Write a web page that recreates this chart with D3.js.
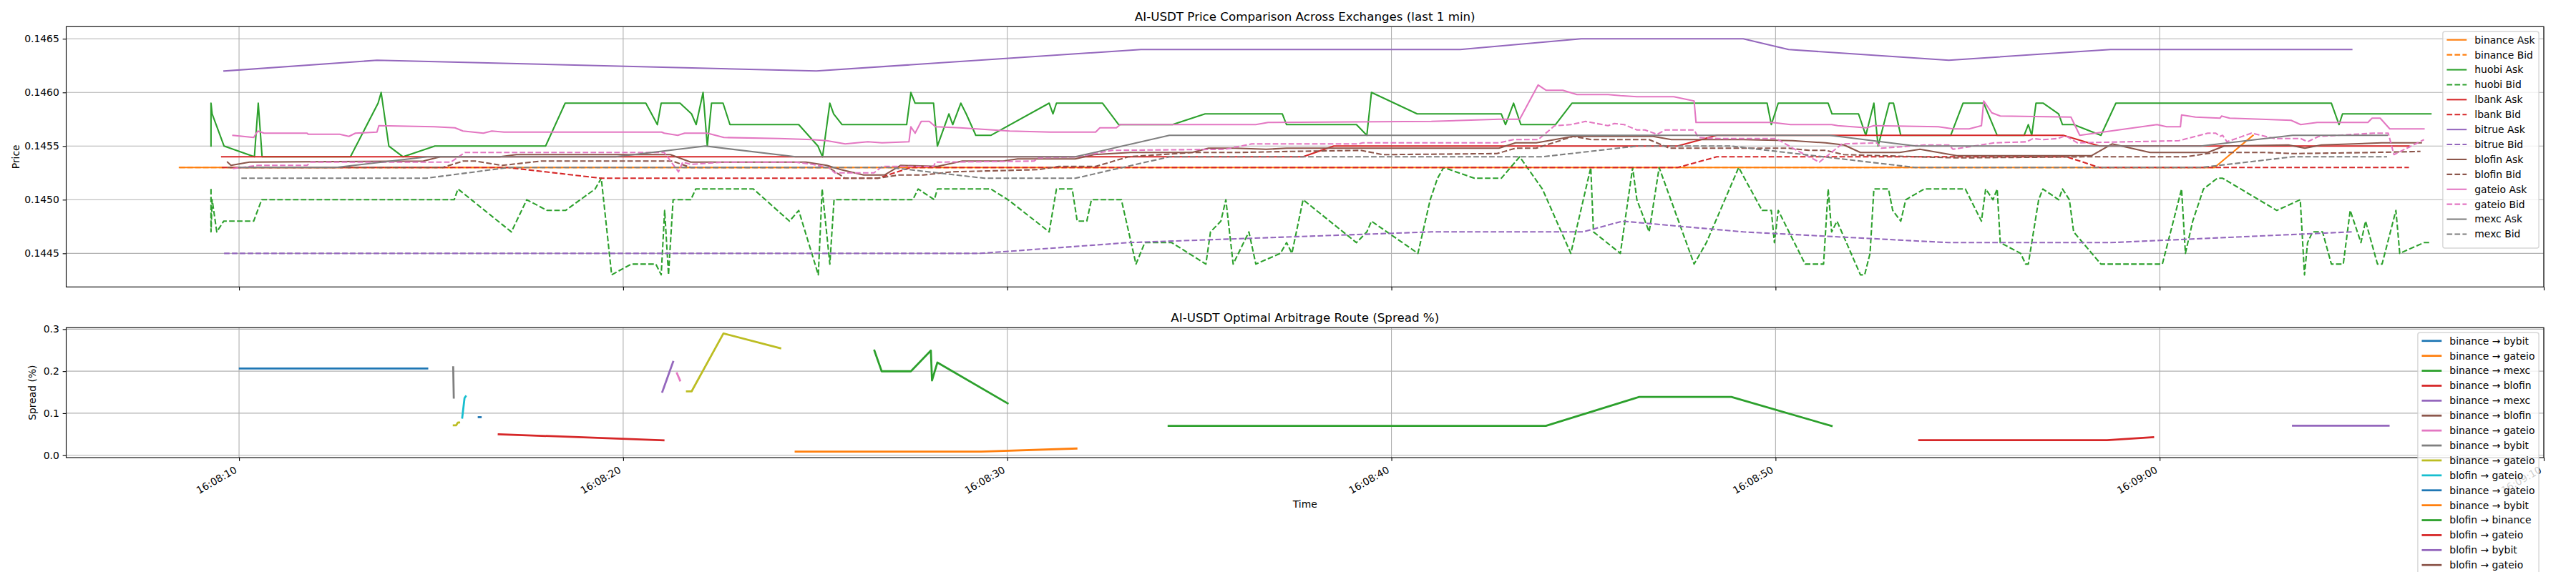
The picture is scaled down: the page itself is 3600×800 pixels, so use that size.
<!DOCTYPE html>
<html><head><meta charset="utf-8">
<script src="https://cdn.jsdelivr.net/npm/d3@7"></script>
<style>
body{margin:0;background:#fff}
text{font-family:"DejaVu Sans",sans-serif;fill:#000}
</style></head>
<body><svg id="c" width="3600" height="800"></svg>
<script>
// ---------- DATA (time = seconds after 16:08:00) ----------
const baseTime = [16, 8, 0];
const xTickSeconds = [10, 20, 30, 40, 50, 60, 70];
const priceTicks = [0.1445, 0.1450, 0.1455, 0.1460, 0.1465];
const spreadTicks = [0.0, 0.1, 0.2, 0.3];
const exchanges = ["binance", "huobi", "lbank", "bitrue", "blofin", "gateio", "mexc"];

const binanceAsk = [[8.45,0.1453],[20,0.1453],[40,0.1453],[61.43,0.1453],[62.43,0.1456]];
const binanceBid = [[8.45,0.1453],[30,0.1453],[61.43,0.1453]];
const huobiAsk = [[9.27,0.1455],[9.27,0.1459],[9.30,0.1458],[9.61,0.1455],[10.40,0.1454],[10.50,0.1459],[10.60,0.1454],[12.90,0.1454],[13.62,0.1459],[13.70,0.1460],[13.90,0.1455],[14.27,0.1454],[15.10,0.1455],[17.98,0.1455],[18.49,0.1459],[20.59,0.1459],[20.89,0.1457],[20.99,0.1459],[21.48,0.1459],[21.78,0.1458],[21.90,0.1457],[22.08,0.1460],[22.19,0.1455],[22.30,0.1459],[22.60,0.1459],[22.78,0.1457],[24.57,0.1457],[25.07,0.1455],[25.19,0.1454],[25.38,0.1459],[25.48,0.1458],[25.70,0.1457],[27.38,0.1457],[27.49,0.1460],[27.60,0.1459],[28.08,0.1459],[28.18,0.1455],[28.48,0.1458],[28.58,0.1457],[28.79,0.1459],[28.93,0.1458],[29.18,0.1456],[29.57,0.1456],[31.09,0.1459],[31.19,0.1458],[31.28,0.1459],[32.48,0.1459],[32.90,0.1457],[34.30,0.1457],[35.15,0.1458],[37.16,0.1458],[37.27,0.1457],[39.09,0.1457],[39.36,0.1456],[39.48,0.1460],[40.67,0.1458],[42.86,0.1458],[42.97,0.1457],[43.18,0.1459],[43.37,0.1457],[44.27,0.1457],[44.70,0.1459],[49.78,0.1459],[49.89,0.1457],[50.07,0.1459],[51.37,0.1459],[51.47,0.1458],[52.16,0.1458],[52.35,0.1456],[52.56,0.1459],[52.67,0.1455],[52.96,0.1459],[53.07,0.1459],[53.26,0.1456],[54.56,0.1456],[54.88,0.1459],[55.42,0.1459],[55.77,0.1456],[56.47,0.1456],[56.58,0.1457],[56.67,0.1456],[56.78,0.1459],[56.97,0.1459],[57.37,0.1458],[57.47,0.1457],[57.76,0.1457],[58.47,0.1456],[58.86,0.1459],[64.47,0.1459],[64.67,0.1457],[64.76,0.1458],[67.06,0.1458]];
const huobiBid = [[9.27,0.1451],[9.27,0.1447],[9.30,0.1450],[9.42,0.1447],[9.60,0.1448],[10.38,0.1448],[10.59,0.1450],[15.60,0.1450],[15.70,0.1451],[17.09,0.1447],[17.49,0.1450],[18.02,0.1449],[18.50,0.1449],[19.27,0.1451],[19.43,0.1452],[19.70,0.1443],[20.21,0.1444],[20.85,0.1444],[20.99,0.1443],[21.08,0.1449],[21.18,0.1443],[21.30,0.1450],[21.76,0.1450],[21.89,0.1451],[23.39,0.1451],[24.33,0.1448],[24.57,0.1449],[25.08,0.1443],[25.18,0.1451],[25.38,0.1444],[25.49,0.1450],[27.54,0.1450],[27.68,0.1451],[28.10,0.1450],[28.18,0.1451],[29.57,0.1451],[30.02,0.1450],[31.09,0.1447],[31.28,0.1451],[31.69,0.1451],[31.82,0.1448],[32.07,0.1448],[32.19,0.1450],[32.97,0.1450],[33.35,0.1444],[33.58,0.1446],[34.28,0.1446],[35.17,0.1444],[35.29,0.1447],[35.56,0.1448],[35.69,0.1450],[35.88,0.1444],[36.29,0.1447],[36.47,0.1444],[37.11,0.1445],[37.27,0.1446],[37.41,0.1445],[37.70,0.1450],[39.09,0.1446],[39.36,0.1447],[39.48,0.1448],[40.69,0.1445],[41.01,0.1450],[41.20,0.1452],[41.36,0.1453],[42.16,0.1452],[42.86,0.1452],[43.34,0.1454],[43.93,0.1451],[44.67,0.1445],[45.19,0.1453],[45.26,0.1447],[45.96,0.1445],[46.28,0.1453],[46.39,0.1450],[46.71,0.1447],[46.97,0.1453],[47.88,0.1444],[48.20,0.1446],[49.04,0.1453],[49.65,0.1449],[49.89,0.1449],[49.97,0.1446],[50.07,0.1449],[50.77,0.1444],[51.25,0.1444],[51.37,0.1451],[51.46,0.1447],[51.60,0.1448],[52.21,0.1443],[52.32,0.1443],[52.46,0.1445],[52.56,0.1451],[52.94,0.1451],[53.05,0.1449],[53.26,0.1448],[53.39,0.1450],[53.87,0.1451],[54.94,0.1451],[55.36,0.1448],[55.47,0.1451],[55.66,0.1450],[55.77,0.1451],[55.85,0.1446],[56.38,0.1445],[56.51,0.1444],[56.58,0.1444],[56.85,0.1450],[56.96,0.1451],[57.37,0.1450],[57.47,0.1451],[57.65,0.1450],[57.76,0.1447],[58.47,0.1444],[60.07,0.1444],[60.57,0.1451],[60.67,0.1445],[60.86,0.1448],[61.14,0.1451],[61.50,0.1452],[61.64,0.1452],[63.05,0.1449],[63.66,0.1450],[63.77,0.1443],[63.85,0.1446],[63.98,0.1447],[64.24,0.1447],[64.47,0.1444],[64.78,0.1444],[64.96,0.1449],[65.24,0.1446],[65.36,0.1448],[65.67,0.1444],[65.79,0.1444],[66.15,0.1449],[66.25,0.1445],[66.88,0.1446],[67.06,0.1446]];
const lbankAsk = [[9.55,0.1454],[37.70,0.1454],[38.50,0.1455],[47.45,0.1455],[48.47,0.1456],[57.49,0.1456],[58.43,0.1455],[66.49,0.1455]];
const lbankBid = [[9.55,0.1453],[17.00,0.1453],[19.43,0.1452],[26.63,0.1452],[27.49,0.1453],[47.45,0.1453],[48.47,0.1454],[57.58,0.1454],[58.43,0.1453],[66.49,0.1453]];
const bitrueAsk = [[9.61,0.1462],[13.59,0.1463],[25.03,0.1462],[33.48,0.1464],[41.79,0.1464],[44.94,0.1465],[49.16,0.1465],[50.34,0.1464],[54.51,0.1463],[58.72,0.1464],[65.00,0.1464]];
const bitrueBid = [[9.61,0.1445],[29.30,0.1445],[33.15,0.1446],[41.04,0.1447],[44.99,0.1447],[46.01,0.1448],[49.16,0.1447],[54.51,0.1446],[58.72,0.1446],[65.00,0.1447]];
const blofinAsk = [[9.70,0.14535],[9.79,0.14532],[10.27,0.14535],[14.80,0.14536],[15.24,0.14540],[16.79,0.14540],[17.22,0.14542],[21.23,0.14542],[21.76,0.14535],[24.76,0.14535],[25.30,0.14532],[25.67,0.14528],[26.26,0.14523],[26.80,0.14523],[27.22,0.14532],[28.18,0.14531],[28.83,0.14536],[29.89,0.14536],[30.27,0.14538],[31.77,0.14538],[32.25,0.14542],[33.21,0.14544],[34.81,0.14544],[35.24,0.14548],[35.94,0.14548],[36.74,0.14547],[37.27,0.14548],[42.80,0.14548],[43.23,0.14553],[43.77,0.14553],[44.25,0.14556],[44.73,0.14559],[46.81,0.14559],[47.29,0.14556],[49.16,0.14556],[50.45,0.14555],[51.30,0.14553],[51.78,0.14551],[52.21,0.14544],[53.23,0.14544],[53.76,0.14547],[54.72,0.14541],[58.22,0.14541],[58.76,0.14552],[59.75,0.14544],[61.25,0.14544],[61.68,0.14550],[63.35,0.14551],[63.78,0.14548],[64.21,0.14551],[65.78,0.14553],[66.81,0.14553]];
const blofinBid = [[9.70,0.14530],[15.30,0.14530],[15.83,0.14536],[16.15,0.14536],[16.85,0.14532],[17.86,0.14536],[21.28,0.14536],[21.76,0.14530],[25.35,0.14530],[25.78,0.14520],[26.63,0.14520],[27.17,0.14523],[27.81,0.14523],[28.56,0.14526],[30.80,0.14528],[31.34,0.14531],[32.30,0.14531],[33.15,0.14540],[34.81,0.14544],[35.94,0.14544],[37.38,0.14545],[39.20,0.14546],[39.78,0.14542],[42.75,0.14543],[43.23,0.14548],[43.77,0.14548],[44.73,0.14559],[45.21,0.14556],[46.71,0.14556],[47.24,0.14548],[50.34,0.14548],[50.87,0.14546],[51.30,0.14546],[51.78,0.14542],[54.72,0.14539],[58.00,0.14540],[60.68,0.14540],[61.43,0.14544],[62.78,0.14544],[63.49,0.14543],[65.49,0.14544],[66.79,0.14545]];
const gateioAsk = [[9.84,0.14560],[10.38,0.14558],[10.49,0.14564],[10.65,0.14562],[11.77,0.14562],[11.80,0.14561],[12.62,0.14561],[12.86,0.14559],[13.03,0.14562],[13.59,0.14563],[13.64,0.14569],[15.08,0.14568],[15.62,0.14567],[15.83,0.14564],[16.36,0.14562],[16.58,0.14564],[16.90,0.14563],[21.00,0.14563],[21.07,0.14562],[21.42,0.14560],[21.60,0.14562],[22.19,0.14562],[22.62,0.14558],[24.06,0.14557],[24.92,0.14556],[25.30,0.14555],[25.78,0.14552],[26.37,0.14554],[26.74,0.14553],[27.44,0.14554],[27.49,0.14568],[27.60,0.14562],[27.76,0.14573],[27.97,0.14573],[28.13,0.14568],[28.77,0.14567],[30.06,0.14564],[31.12,0.14563],[32.30,0.14563],[32.41,0.14567],[32.84,0.14567],[32.94,0.14570],[36.47,0.14570],[36.79,0.14572],[41.04,0.14573],[42.80,0.14575],[43.34,0.14575],[43.82,0.14607],[44.03,0.14602],[44.46,0.14602],[44.83,0.14598],[45.64,0.14598],[45.96,0.14597],[46.39,0.14596],[47.35,0.14596],[47.88,0.14592],[47.93,0.14572],[49.59,0.14572],[49.91,0.14572],[50.39,0.14570],[51.46,0.14570],[51.62,0.14569],[52.37,0.14567],[52.56,0.14569],[54.24,0.14568],[54.62,0.14566],[55.04,0.14566],[55.36,0.14569],[55.42,0.14592],[55.63,0.14581],[55.85,0.14578],[57.69,0.14577],[57.92,0.14560],[59.93,0.14570],[60.18,0.14568],[60.54,0.14568],[60.57,0.14579],[60.93,0.14577],[61.57,0.14576],[61.61,0.14578],[61.82,0.14576],[62.64,0.14575],[63.42,0.14574],[63.67,0.14570],[64.10,0.14572],[65.42,0.14572],[65.53,0.14576],[65.74,0.14576],[65.99,0.14566],[66.88,0.14566]];
const gateioBid = [[9.84,0.14529],[10.49,0.14532],[11.77,0.14532],[11.87,0.14535],[15.51,0.14535],[15.88,0.14544],[21.07,0.14544],[21.44,0.14526],[21.55,0.14535],[21.76,0.14533],[22.62,0.14535],[24.49,0.14535],[24.92,0.14533],[25.35,0.14530],[25.51,0.14525],[26.53,0.14525],[26.74,0.14531],[28.08,0.14531],[28.13,0.14535],[30.70,0.14536],[30.80,0.14539],[31.82,0.14540],[32.73,0.14546],[35.67,0.14547],[36.36,0.14552],[39.14,0.14552],[39.25,0.14553],[42.80,0.14553],[43.18,0.14556],[43.82,0.14556],[44.25,0.14569],[44.67,0.14570],[45.05,0.14573],[45.64,0.14569],[45.80,0.14571],[46.06,0.14570],[46.39,0.14565],[46.60,0.14565],[46.92,0.14561],[47.13,0.14565],[47.88,0.14565],[47.99,0.14558],[48.52,0.14557],[50.02,0.14557],[50.45,0.14548],[51.14,0.14535],[51.73,0.14552],[52.64,0.14553],[52.75,0.14548],[53.87,0.14551],[54.51,0.14551],[54.62,0.14547],[55.69,0.14553],[56.54,0.14554],[56.70,0.14557],[56.97,0.14556],[57.34,0.14557],[57.50,0.14559],[57.58,0.14559],[57.86,0.14553],[60.50,0.14555],[60.93,0.14559],[61.25,0.14562],[61.46,0.14562],[61.57,0.14559],[61.64,0.14560],[61.75,0.14554],[62.39,0.14562],[63.00,0.14557],[63.67,0.14557],[63.85,0.14554],[64.14,0.14559],[65.56,0.14562],[65.95,0.14562],[66.10,0.14542],[66.88,0.14556]];
const mexcAsk = [[10.00,0.1453],[12.52,0.1453],[14.90,0.1454],[19.80,0.1454],[22.14,0.1455],[24.49,0.1454],[31.77,0.1454],[34.22,0.1456],[51.41,0.1456],[53.65,0.1455],[61.07,0.1455],[63.46,0.1456],[65.92,0.1456]];
const mexcBid = [[10.06,0.1452],[14.87,0.1452],[17.01,0.1453],[26.96,0.1453],[29.41,0.1452],[31.77,0.1452],[34.22,0.1454],[43.93,0.1454],[46.39,0.1455],[48.84,0.1455],[53.65,0.1453],[61.07,0.1453],[63.46,0.1454],[65.92,0.1454]];

const routeLabels = ["binance → bybit","binance → gateio","binance → mexc","binance → blofin","binance → mexc","binance → blofin","binance → gateio","binance → bybit","binance → gateio","blofin → gateio","binance → gateio","binance → bybit","blofin → binance","blofin → gateio","blofin → bybit","blofin → gateio"];
const routePoints = [
  [[10.02,0.2064],[14.90,0.2064]],
  [[24.49,0.0085],[29.32,0.0085],[31.80,0.0160]],
  [[26.54,0.249],[26.73,0.1998],[27.49,0.1998],[28.01,0.249],[28.04,0.178],[28.18,0.2207],[30.01,0.1234]],
  [[16.76,0.0499],[21.05,0.0357]],
  [[21.02,0.151],[21.30,0.2224]],
  [],
  [[21.40,0.195],[21.48,0.178]],
  [[15.575,0.2095],[15.59,0.137]],
  [[15.59,0.071],[15.65,0.071],[15.70,0.078],[15.73,0.078],null,[21.66,0.1518],[21.78,0.1518],[22.61,0.2898],[24.09,0.2547]],
  [[15.81,0.0895],[15.87,0.136],[15.90,0.140]],
  [[16.24,0.0906],[16.29,0.0906]],
  [],
  [[34.20,0.070],[44.02,0.070],[46.45,0.1387],[48.85,0.1387],[51.46,0.0696]],
  [[53.74,0.0357],[58.63,0.0357],[59.83,0.043]],
  [[63.47,0.0703],[65.96,0.0703]],
  []
];

// ---------- RENDER ----------
const tab10 = ["#1f77b4","#ff7f0e","#2ca02c","#d62728","#9467bd","#8c564b","#e377c2","#7f7f7f","#bcbd22","#17becf"];
const toDate = s => new Date(2024, 0, 1, baseTime[0], baseTime[1], baseTime[2] + Math.floor(s), Math.round((s - Math.floor(s)) * 1000));
const svg = d3.select("#c");
const FS = 13.9, LW = 2.08, GRID = "#b0b0b0";
const L = 92.5, R = 3555;
const P1 = {top: 37.3, bot: 401.3}, P2 = {top: 458.3, bot: 640};

const x = d3.scaleTime().domain([toDate(5.5), toDate(70)]).range([L, R]);
const yP = d3.scaleLinear().domain([0.144187, 0.146613]).range([P1.bot, P1.top]);
const yS = d3.scaleLinear().domain([-0.0056, 0.3035]).range([P2.bot, P2.top]);
const xTicks = xTickSeconds.map(toDate);

function frame(p, yScale, yTicks, fmt, id) {
  const g = svg.append("g");
  g.append("rect").attr("x", L).attr("y", p.top).attr("width", R - L).attr("height", p.bot - p.top).attr("fill", "#fff");
  g.selectAll(null).data(xTicks).join("line")
    .attr("x1", d => x(d)).attr("x2", d => x(d)).attr("y1", p.top).attr("y2", p.bot)
    .attr("stroke", GRID).attr("stroke-width", 1.11);
  g.selectAll(null).data(yTicks).join("line")
    .attr("x1", L).attr("x2", R).attr("y1", d => yScale(d)).attr("y2", d => yScale(d))
    .attr("stroke", GRID).attr("stroke-width", 1.11);
  svg.append("clipPath").attr("id", id).append("rect")
    .attr("x", L).attr("y", p.top).attr("width", R - L).attr("height", p.bot - p.top);
  return g;
}
function axes(p, yScale, yTicks, fmt) {
  const ay = svg.append("g").attr("transform", `translate(${L},0)`)
    .call(d3.axisLeft(yScale).tickValues(yTicks).tickFormat(fmt).tickSize(4.86).tickPadding(4.86));
  const ax = svg.append("g").attr("transform", `translate(0,${p.bot})`)
    .call(d3.axisBottom(x).tickValues(xTicks).tickFormat("").tickSize(4.86));
  [ay, ax].forEach(a => {
    a.select(".domain").remove();
    a.selectAll("line").attr("stroke", "#000").attr("stroke-width", 1.11);
    a.selectAll("text").style("font-size", FS + "px").style("font-family", "DejaVu Sans").attr("fill", "#000");
  });
  svg.append("rect").attr("x", L).attr("y", p.top).attr("width", R - L).attr("height", p.bot - p.top)
    .attr("fill", "none").attr("stroke", "#000").attr("stroke-width", 1.11);
}
function legend(items, right, top, lw) {
  const g = svg.append("g");
  const pad = 5.56, hl = 27.8, hp = 11.1, rowH = 20.9;
  const tmp = g.append("g");
  const widths = items.map(it => {
    const t = tmp.append("text").style("font-size", FS + "px").text(it.label);
    return t.node().getComputedTextLength();
  });
  tmp.remove();
  const w = pad + hl + hp + d3.max(widths) + pad;
  const h = 2 * pad + items.length * rowH - 0.5 * FS + 6;
  const left = right - w;
  g.append("rect").attr("x", left).attr("y", top).attr("width", w).attr("height", h)
    .attr("rx", 2.8).attr("fill", "#fff").attr("fill-opacity", 0.8)
    .attr("stroke", "#cccccc").attr("stroke-opacity", 0.8).attr("stroke-width", 1.39);
  items.forEach((it, i) => {
    const cy = top + 11.5 + i * rowH;
    g.append("line").attr("x1", left + pad).attr("x2", left + pad + hl).attr("y1", cy).attr("y2", cy)
      .attr("stroke", it.color).attr("stroke-width", lw)
      .attr("stroke-dasharray", it.dashed ? "7.7,3.3" : null);
    g.append("text").attr("x", left + pad + hl + hp).attr("y", cy).attr("dy", "0.35em")
      .style("font-size", FS + "px").text(it.label);
  });
}

// ----- top panel -----
frame(P1, yP, priceTicks, d3.format(".4f"), "clip1");
const priceData = {binanceAsk, binanceBid, huobiAsk, huobiBid, lbankAsk, lbankBid, bitrueAsk, bitrueBid, blofinAsk, blofinBid, gateioAsk, gateioBid, mexcAsk, mexcBid};
const priceSeries = [];
exchanges.forEach((ex, i) => {
  ["Ask", "Bid"].forEach(side => {
    priceSeries.push({label: `${ex} ${side}`, data: priceData[ex + side], color: tab10[(i + 1) % 10], dashed: side === "Bid"});
  });
});
const lineP = d3.line().defined(d => d != null).x(d => x(toDate(d[0]))).y(d => yP(d[1]));
const gL1 = svg.append("g").attr("clip-path", "url(#clip1)");
priceSeries.forEach(s => {
  gL1.append("path").attr("d", lineP(s.data)).attr("fill", "none")
    .attr("stroke", s.color).attr("stroke-width", LW).attr("stroke-linejoin", "round")
    .attr("stroke-linecap", s.dashed ? "butt" : "square")
    .attr("stroke-dasharray", s.dashed ? "7.7,3.3" : null);
});
axes(P1, yP, priceTicks, d3.format(".4f"));
svg.append("text").attr("x", (L + R) / 2).attr("y", 29).attr("text-anchor", "middle")
  .style("font-size", "16.7px").text("AI-USDT Price Comparison Across Exchanges (last 1 min)");
svg.append("text").attr("transform", `translate(27,${(P1.top + P1.bot) / 2}) rotate(-90)`)
  .attr("text-anchor", "middle").style("font-size", FS + "px").text("Price");
legend(priceSeries, R - 6.95, P1.top + 6.95, LW);

// ----- bottom panel -----
frame(P2, yS, spreadTicks, d3.format(".1f"), "clip2");
const lineS = d3.line().defined(d => d != null).x(d => x(toDate(d[0]))).y(d => yS(d[1]));
const gL2 = svg.append("g").attr("clip-path", "url(#clip2)");
routePoints.forEach((pts, i) => {
  if (!pts.length) return;
  gL2.append("path").attr("d", lineS(pts)).attr("fill", "none")
    .attr("stroke", tab10[i % 10]).attr("stroke-width", 2.78)
    .attr("stroke-linejoin", "round").attr("stroke-linecap", "square");
});
axes(P2, yS, spreadTicks, d3.format(".1f"));
svg.append("g").selectAll("text").data(xTicks).join("text")
  .attr("transform", d => `translate(${x(d) - 2},660) rotate(-30)`)
  .attr("text-anchor", "end").style("font-size", FS + "px")
  .text(d3.timeFormat("%H:%M:%S"));
svg.append("text").attr("x", (L + R) / 2).attr("y", 450).attr("text-anchor", "middle")
  .style("font-size", "16.7px").text("AI-USDT Optimal Arbitrage Route (Spread %)");
svg.append("text").attr("transform", `translate(50,${(P2.top + P2.bot) / 2}) rotate(-90)`)
  .attr("text-anchor", "middle").style("font-size", FS + "px").text("Spread (%)");
svg.append("text").attr("x", (L + R) / 2).attr("y", 710).attr("text-anchor", "middle")
  .style("font-size", FS + "px").text("Time");
legend(routeLabels.map((lab, i) => ({label: lab, color: tab10[i % 10], dashed: false})), R - 6.95, P2.top + 6.95, 2.78);
</script></body></html>
